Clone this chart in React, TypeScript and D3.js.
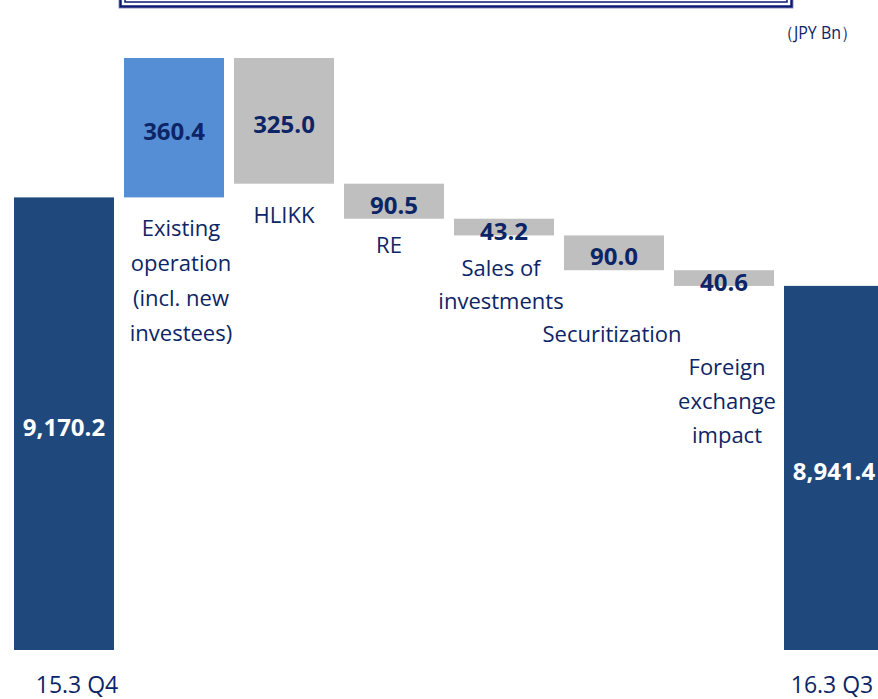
import React from "react";
import * as d3 from "d3";

const categories = [
  "15.3 Q4",
  "Existing operation (incl. new investees)",
  "HLIKK",
  "RE",
  "Sales of investments",
  "Securitization",
  "Foreign exchange impact",
  "16.3 Q3",
];
const labelLines = [
  ["15.3 Q4"],
  ["Existing", "operation", "(incl. new", "investees)"],
  ["HLIKK"],
  ["RE"],
  ["Sales of", "investments"],
  ["Securitization"],
  ["Foreign", "exchange", "impact"],
  ["16.3 Q3"],
];
const kinds = ["total", "increase", "decrease", "decrease", "decrease", "decrease", "decrease", "total"];
const values = [9170.2, 360.4, 325.0, 90.5, 43.2, 90.0, 40.6, 8941.4];
const valueLabels = ["9,170.2", "360.4", "325.0", "90.5", "43.2", "90.0", "40.6", "8,941.4"];
const unitLabel = "（JPY Bn）";

// layout (not data): vertical offset of category label below bar bottom, horizontal nudge
const labelDy = [0, 31, 31, 26, 33, 64, 81, 0];
const labelDx = [13, 7, 0, -5, -3, -2, 3, -2];
const lineGap = [0, 35, 0, 0, 33, 0, 34, 0];

const W = 878;
const H = 699;
const BASE = 8000;

export default function App() {
  let running = 0;
  const segs = values.map((v, i) => {
    if (kinds[i] === "total") {
      running = v;
      return { y0: BASE, y1: v };
    }
    const start = running;
    running = kinds[i] === "increase" ? running + v : running - v;
    return { y0: Math.min(start, running), y1: Math.max(start, running) };
  });
  const maxV = d3.max(segs, (s) => s.y1) as number;

  const x = d3
    .scaleBand<string>()
    .domain(categories)
    .range([9, 889])
    .paddingInner(10 / 110)
    .paddingOuter(5 / 110);
  const y = d3.scaleLinear().domain([BASE, maxV]).range([650, 58]);

  const navy = "#1F497D";
  const textNavy = "#0C2566";
  const fill = (k: string) => (k === "total" ? navy : k === "increase" ? "#558ED5" : "#BFBFBF");
  const font = "'Open Sans', Lato, sans-serif";

  return (
    <svg width={W} height={H} style={{ position: "absolute", left: 0, top: 0, background: "#fff" }}>
      {/* title frame (cut off at top) */}
      <rect x={119} y={-60} width={674} height={68} fill="none" stroke="#8f92c8" strokeWidth={1} />
      <rect x={120.5} y={-60} width={671} height={66.5} fill="none" stroke="#0d1a72" strokeWidth={2.5} />
      <rect x={125} y={-60} width={662} height={62} fill="none" stroke="#0d1a72" strokeWidth={1.5} />

      <text
        x={778}
        y={39}
        fontFamily={font}
        fontSize={18}
        fill={textNavy}
        textLength={79}
        lengthAdjust="spacingAndGlyphs"
      >
        {unitLabel}
      </text>

      {categories.map((c, i) => {
        const s = segs[i];
        const bx = x(c) as number;
        const bw = x.bandwidth();
        const top = y(s.y1);
        const bottom = y(s.y0);
        const cx = bx + bw / 2;
        const isTotal = kinds[i] === "total";
        return (
          <g key={c}>
            <rect x={bx} y={top} width={bw} height={bottom - top} fill={fill(kinds[i])} />
            <text
              x={cx}
              y={(top + bottom) / 2 + 3}
              textAnchor="middle"
              dominantBaseline="central"
              fontFamily={font}
              fontWeight="bold"
              fontSize={24}
              fill={isTotal ? "#ffffff" : textNavy}
            >
              {valueLabels[i]}
            </text>
            {isTotal ? (
              <text
                x={cx + labelDx[i]}
                y={693}
                textAnchor="middle"
                fontFamily={font}
                fontSize={23}
                fill={textNavy}
              >
                {labelLines[i][0]}
              </text>
            ) : (
              <text textAnchor="middle" fontFamily={font} fontSize={22} fill={textNavy}>
                {labelLines[i].map((ln, j) => (
                  <tspan key={j} x={cx + labelDx[i]} y={bottom + labelDy[i] + 8 + j * lineGap[i]}>
                    {ln}
                  </tspan>
                ))}
              </text>
            )}
          </g>
        );
      })}
    </svg>
  );
}
